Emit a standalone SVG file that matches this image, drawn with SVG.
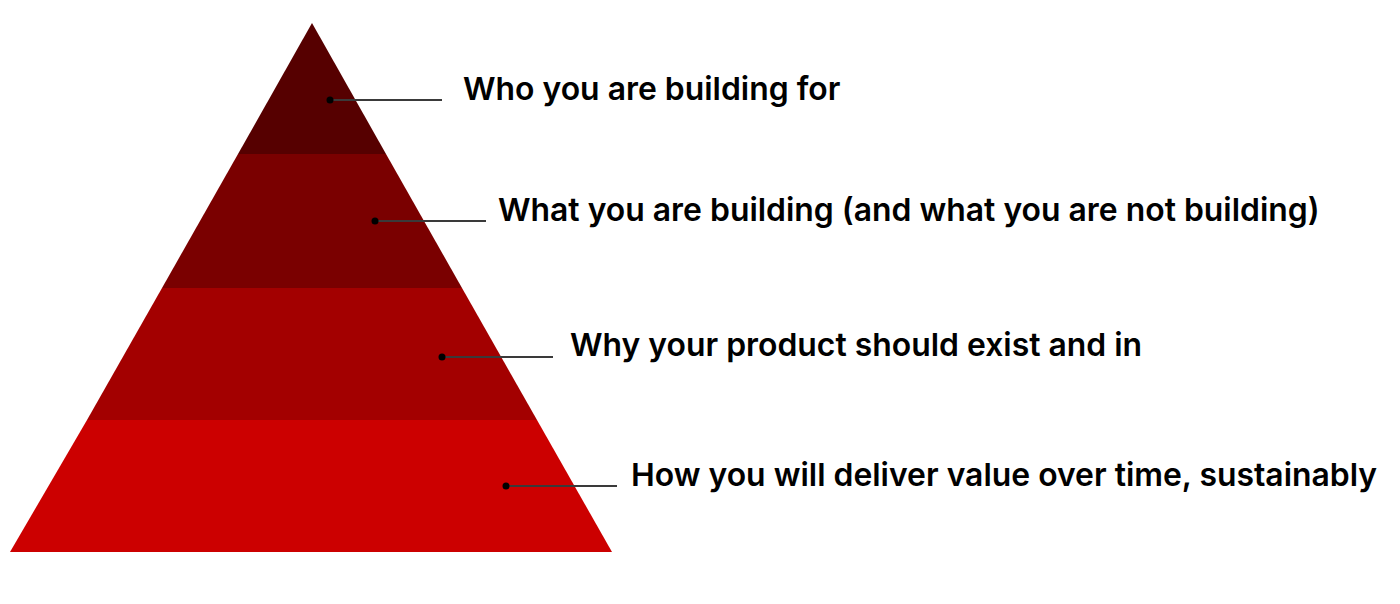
<svg xmlns="http://www.w3.org/2000/svg" width="1400" height="604" viewBox="0 0 1400 604">
<style>
.lbl{font-family:Inter,"Noto Sans","Liberation Sans",sans-serif;font-weight:600;font-size:31.9px;fill:#000}
.ln{stroke:#3a3a3a;stroke-width:2;fill:none}
.dot{fill:#000}
</style>
<rect width="1400" height="604" fill="#fff"/>
<g id="pyramid">
<polygon id="layer1" points="312,23 386,154 238,154" fill="#560000"/>
<polygon id="layer2" points="238,154 386,154 462,288 162,288" fill="#7a0000"/>
<polygon id="layer3" points="162,288 462,288 537,420 87,420" fill="#a30000"/>
<polygon id="layer4" points="87,420 537,420 612,552 10,552" fill="#cc0000"/>
</g>
<g id="connectors">
<line class="ln" x1="330" y1="100" x2="442" y2="100"/><circle class="dot" cx="330" cy="100" r="3.5"/>
<line class="ln" x1="375" y1="221" x2="486" y2="221"/><circle class="dot" cx="375" cy="221" r="3.5"/>
<line class="ln" x1="442" y1="357" x2="553" y2="357"/><circle class="dot" cx="442" cy="357" r="3.5"/>
<line class="ln" x1="506" y1="486" x2="617" y2="486"/><circle class="dot" cx="506" cy="486" r="3.5"/>
</g>
<g id="label1"><text class="lbl" x="463" y="100">Who you are building for</text></g>
<g id="label2"><text class="lbl" x="498" y="221">What you are building (and what you are not building)</text></g>
<g id="label3"><text class="lbl" x="570" y="356">Why your product should exist and in</text></g>
<g id="label4"><text class="lbl" x="631" y="486">How you will deliver value over time, sustainably</text></g>
</svg>
